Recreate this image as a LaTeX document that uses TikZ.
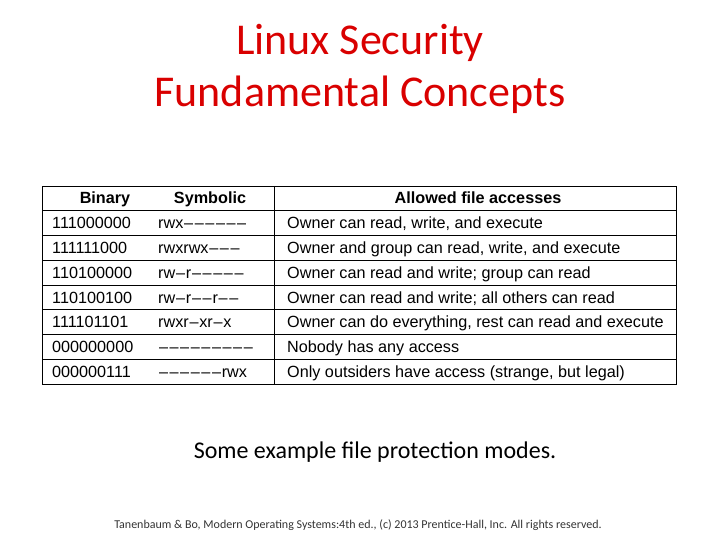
\documentclass[tikz,border=0pt]{standalone}
\usepackage{fontspec}
\setmainfont{Carlito}
\newfontfamily\tabfont{Liberation Sans}
\newcommand\dd{\kern0.8pt\textendash\kern0.8pt}
\begin{document}
\begin{tikzpicture}[x=1pt,y=-1pt,
  title/.style={text=red!85!black,font=\fontsize{44}{48}\selectfont,anchor=center},
  cell/.style={font=\tabfont\fontsize{16.2}{18}\selectfont,anchor=base west,inner sep=0pt},
  head/.style={font=\tabfont\bfseries\fontsize{16.2}{18}\selectfont,anchor=base,inner sep=0pt}]
\useasboundingbox (0,0) rectangle (720,540);
\node[title] (t1) at (360,43) {Linux Security};
\node[title] (t2) at (360,95) {Fundamental Concepts};
\draw[line width=0.8pt] (42,186) rectangle (676,384);
\draw[line width=0.8pt] (274,186) -- (274,384);
\foreach \i in {1,...,7}{\draw[line width=0.6pt] (42,{186+\i*24.75}) -- (676,{186+\i*24.75});}
\node[head] (h1) at (105,204) {Binary};
\node[head] (h2) at (210,204) {Symbolic};
\node[head] (h3) at (478,204) {Allowed file accesses};
\foreach \b/\s/\d [count=\i] in {
 111000000/rwx\dd\dd\dd\dd\dd\dd/Owner can read{,} write{,} and execute,
 111111000/rwxrwx\dd\dd\dd/Owner and group can read{,} write{,} and execute,
 110100000/rw\dd r\dd\dd\dd\dd\dd/Owner can read and write; group can read,
 110100100/rw\dd r\dd\dd r\dd\dd/Owner can read and write; all others can read,
 111101101/rwxr\dd xr\dd x/Owner can do everything{,} rest can read and execute,
 000000000/\dd\dd\dd\dd\dd\dd\dd\dd\dd/Nobody has any access,
 000000111/\dd\dd\dd\dd\dd\dd rwx/Only outsiders have access (strange{,} but legal)}{
 \node[cell] (b\i) at (52,{204+\i*24.75}) {\b};
 \node[cell] (s\i) at (158,{204+\i*24.75}) {\s};
 \node[cell] (d\i) at (287,{204+\i*24.75}) {\d};
}
\node[font=\fontsize{24}{28}\selectfont] (cap) at (375,452) {Some example file protection modes.};
\node[font=\fontsize{12}{14}\selectfont,text=black!80] (foot) at (358,525) {Tanenbaum \& Bo, Modern Operating Systems:4th ed., (c) 2013 Prentice-Hall, Inc. All rights reserved.};
\end{tikzpicture}
\end{document}
